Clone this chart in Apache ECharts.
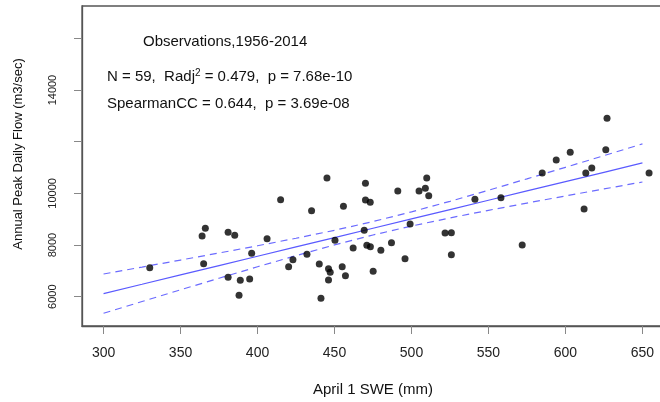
<!DOCTYPE html>
<html>
<head>
<meta charset="utf-8">
<script src="https://cdn.jsdelivr.net/npm/echarts@6/dist/echarts.min.js"></script>
<style>
html,body{margin:0;padding:0;background:#fff;overflow:hidden;}
#chart{width:660px;height:402px;}
</style>
</head>
<body>
<div id="chart"></div>
<script>
// Observations: April 1 SWE (mm) vs annual peak daily flow (m3/sec)
const swe = [330.0, 366.1, 364.0, 365.0, 380.9, 385.2, 396.2, 380.9, 388.8, 394.9, 388.0,
  406.2, 415.0, 445.1, 435.1, 455.8, 470.1, 470.1, 473.2, 469.3, 450.3,
  462.1, 471.0, 473.3, 480.1, 432.1, 423.0, 420.2, 440.1, 446.1, 447.2,
  446.1, 455.0, 457.1, 475.1, 441.2,
  491.1, 509.9, 504.9, 509.0, 511.2, 499.1, 487.0, 495.8, 521.8, 525.9,
  525.9, 541.2, 558.1,
  571.9, 584.9, 594.0, 603.1, 613.2, 617.1, 612.1, 626.2, 627.0, 654.3];
const peakFlow = [7123, 8648, 8350, 7277, 8493, 8377, 7680, 6751, 6635, 6685, 6054,
  8245, 9755, 10595, 9329, 9499, 10390, 9743, 9654, 8570, 8183,
  7885, 7990, 7936, 7796, 7641, 7432, 7161, 7266, 7084, 6945,
  6646, 7161, 6813, 6983, 5938,
  10092, 10595, 10092, 10196, 9910, 8814, 8090, 7471, 8466, 8477,
  7626, 9770, 9832,
  8001, 10788, 11292, 11590, 10788, 10982, 9395, 11690, 12906, 10788];

// Regression line and confidence band
const fitX = [300, 325, 350, 375, 400, 425, 450, 475, 500, 525, 550, 575, 600, 625, 650];
const fitY = [6120, 6481, 6843, 7204, 7565, 7926, 8288, 8649, 9010, 9371, 9733, 10094, 10455, 10816, 11178];
const upperY = [6880, 7148, 7419, 7692, 7972, 8262, 8571, 8909, 9285, 9692, 10122, 10562, 11009, 11461, 11915];
const lowerY = [5360, 5814, 6267, 6716, 7158, 7590, 8005, 8389, 8735, 9050, 9344, 9626, 9901, 10171, 10441];

// Tick values
const xTicks = [300, 350, 400, 450, 500, 550, 600, 650];
const yTicks = [6000, 8000, 10000, 12000, 14000, 16000];
const yLabels = [6000, 8000, 10000, 14000];

const FONT = "'Liberation Sans', Arial, Helvetica, sans-serif";
const zip = (a, b) => a.map((v, i) => [v, b[i]]);

const chart = echarts.init(document.getElementById('chart'), null, {renderer: 'canvas'});
chart.setOption({
  animation: false,
  backgroundColor: '#ffffff',
  textStyle: {fontFamily: FONT},
  title: [
    {text: 'Observations,1956-2014', left: 143, top: 33, padding: 0,
     textStyle: {fontFamily: FONT, fontSize: 15, fontWeight: 'normal', color: '#111', lineHeight: 18}},
    {text: '{n|N = 59,  Radj}{s|2}{n| = 0.479,  p = 7.68e-10}', left: 107, top: 68, padding: 0,
     textStyle: {fontFamily: FONT, fontSize: 15, fontWeight: 'normal', color: '#111',
       rich: {
         n: {fontFamily: FONT, fontSize: 15, color: '#111', lineHeight: 18},
         s: {fontFamily: FONT, fontSize: 10, color: '#111', lineHeight: 18, verticalAlign: 'top', padding: [0, 0, 8, 0]}
       }}},
    {text: 'SpearmanCC = 0.644,  p = 3.69e-08', left: 107, top: 95, padding: 0,
     textStyle: {fontFamily: FONT, fontSize: 15, fontWeight: 'normal', color: '#111', lineHeight: 18}}
  ],
  grid: {left: 82, right: -4, top: 6, bottom: 76, show: true, borderColor: '#555', borderWidth: 1.3,
         containLabel: false, outerBoundsMode: 'none'},
  xAxis: {
    type: 'value', min: 286, max: 664,
    name: 'April 1 SWE (mm)', nameLocation: 'middle', nameGap: 56,
    nameTextStyle: {fontFamily: FONT, fontSize: 15, color: '#111'},
    axisLine: {show: true, onZero: false, lineStyle: {color: '#555', width: 1.3}},
    axisTick: {show: true, length: 8, customValues: xTicks, lineStyle: {color: '#888', width: 1}},
    axisLabel: {customValues: xTicks, margin: 20, fontFamily: FONT, fontSize: 14, color: '#222',
                showMinLabel: true, showMaxLabel: true},
    splitLine: {show: false}
  },
  yAxis: {
    type: 'value', min: 4866, max: 17254,
    name: 'Annual Peak Daily Flow (m3/sec)', nameLocation: 'middle', nameGap: 57, nameRotate: 90,
    nameTextStyle: {fontFamily: FONT, fontSize: 13, color: '#111', padding: [0, 0, 0, 24]},
    axisLine: {show: true, onZero: false, lineStyle: {color: '#555', width: 1.3}},
    axisTick: {show: true, length: 8, customValues: yTicks, lineStyle: {color: '#888', width: 1}},
    axisLabel: {customValues: yLabels, rotate: 90, margin: 24, fontFamily: FONT, fontSize: 11, color: '#222',
                formatter: (v) => String(v)},
    splitLine: {show: false}
  },
  series: [
    {type: 'line', data: zip(fitX, upperY), showSymbol: false, symbol: 'none', silent: true,
     lineStyle: {color: '#6b6bff', width: 1.2, type: [7, 5]}, z: 2},
    {type: 'line', data: zip(fitX, lowerY), showSymbol: false, symbol: 'none', silent: true,
     lineStyle: {color: '#6b6bff', width: 1.2, type: [7, 5]}, z: 2},
    {type: 'line', data: zip(fitX, fitY), showSymbol: false, symbol: 'none', silent: true,
     lineStyle: {color: '#5a5aff', width: 1.2, type: 'solid'}, z: 2},
    {type: 'scatter', data: zip(swe, peakFlow), symbol: 'circle', symbolSize: 7,
     itemStyle: {color: '#000'}, z: 3}
  ]
});
</script>
</body>
</html>
